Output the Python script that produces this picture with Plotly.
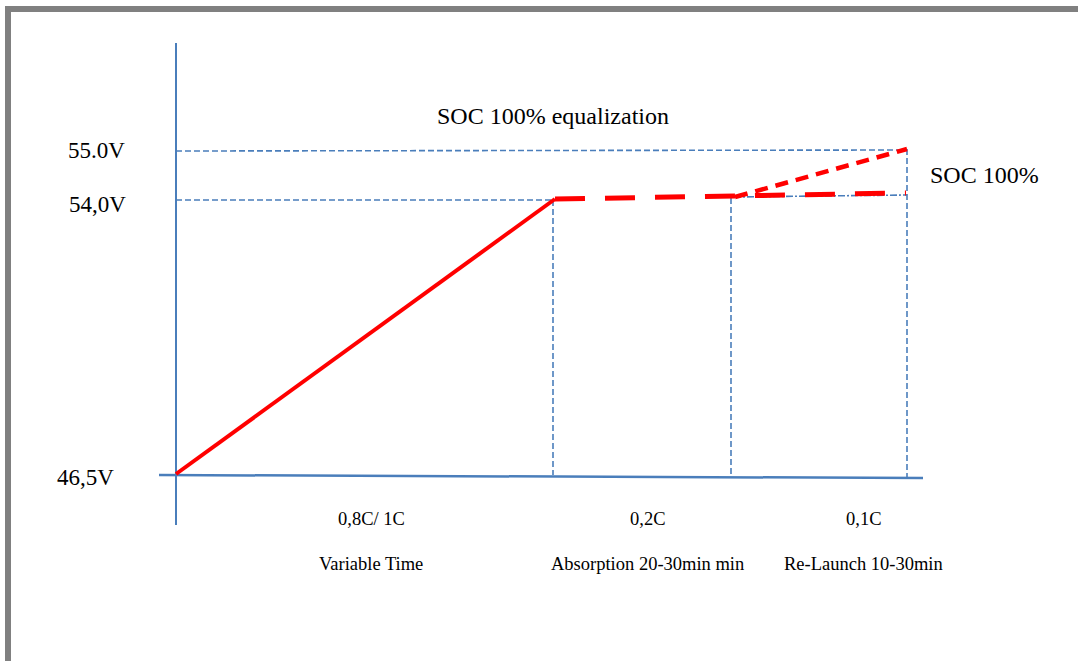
import plotly.graph_objects as go

# schematic units: 1 unit ~ 1 px of the original drawing (diagram is not to scale)
level_labels = ["46,5V", "54,0V", "55.0V"]
level_h = [0, 275, 324]

phase_t = [0, 377, 555, 731]          # phase boundaries along time axis
rate_labels = ["0,8C/ 1C", "0,2C", "0,1C"]
phase_labels = ["Variable Time", "Absorption 20-30min min", "Re-Launch 10-30min"]
label_t = [195, 471, 687]

# charge curve: bulk ramp, absorption, relaunch
bulk_t = [0, 379]
bulk_h = [1, 276]
float_t = [379, 559, 730]
float_h = [276, 279, 282]
# equalization branch
eq_t = [559, 731]
eq_h = [278, 326]
relaunch_ref_t = [558, 731]
relaunch_ref_h = [278, 280]

BLUE = "#4A7EBB"
RED = "#FF0000"
FONT = "Liberation Serif"

fig = go.Figure()


def line(x, y, color, width, dash="solid"):
    fig.add_trace(go.Scatter(x=x, y=y, mode="lines", hoverinfo="skip",
                             line=dict(color=color, width=width, dash=dash)))


# axes drawn as lines
line([-17, 747], [0, -3], BLUE, 2.5)
line([0, 0], [-50, 432], BLUE, 2)

# guides
line([0, phase_t[3]], [level_h[2], level_h[2] + 1], BLUE, 1.6, "6px,3px")
line([0, bulk_t[1]], [level_h[1], level_h[1]], BLUE, 1.6, "6px,3px")
line([phase_t[1], phase_t[1]], [level_h[1], 0], BLUE, 1.6, "6px,3px")
line([phase_t[2], phase_t[2]], [float_h[1] - 2, 0], BLUE, 1.6, "6px,3px")
line([phase_t[3], phase_t[3]], [eq_h[1], -5], BLUE, 1.6, "6px,3px")
line(relaunch_ref_t, relaunch_ref_h, BLUE, 1.6, "7px,2px,2px,2px")

# red charge curves
line(bulk_t, bulk_h, RED, 4)
line(float_t, float_h, RED, 5, "30px,20px")
line(eq_t, eq_h, RED, 4.5, "13px,8px")

ann = []
shift = [-2, -4, 1]
label_x = [-91, -79, -80]
for lab, h, s, lx in zip(level_labels, level_h, shift, label_x):
    ann.append(dict(x=lx, y=h, yshift=s, text=lab, showarrow=False,
                    font=dict(family=FONT, size=23, color="black")))
for lab, t in zip(rate_labels, label_t):
    ann.append(dict(x=t, y=-44, text=lab, showarrow=False,
                    font=dict(family=FONT, size=18.5, color="black")))
for lab, t in zip(phase_labels, label_t):
    ann.append(dict(x=t, y=-89, text=lab, showarrow=False,
                    font=dict(family=FONT, size=18.5, color="black")))
ann.append(dict(x=377, y=359, text="SOC 100% equalization", showarrow=False,
                font=dict(family=FONT, size=24, color="black")))
ann.append(dict(x=808, y=300, text="SOC 100%", showarrow=False,
                font=dict(family=FONT, size=24, color="black")))

fig.update_layout(
    width=1078, height=661,
    margin=dict(l=0, r=0, t=0, b=0),
    paper_bgcolor="white", plot_bgcolor="white",
    showlegend=False,
    annotations=ann,
    shapes=[dict(type="rect", xref="paper", yref="paper",
                 x0=8 / 1078, x1=1.02, y0=-0.02, y1=1 - 9 / 661,
                 line=dict(color="#808080", width=6))],
)
fig.update_xaxes(range=[-176, 902], visible=False, fixedrange=True)
fig.update_yaxes(range=[-186, 475], visible=False, fixedrange=True)

fig.write_html("out.html", config={"displayModeBar": False},
               post_script="document.body.style.margin='0';")
